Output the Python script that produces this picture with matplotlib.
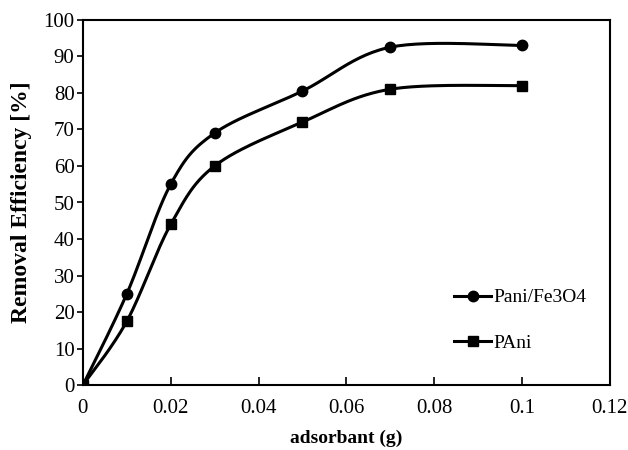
import matplotlib.pyplot as plt
import numpy as np
from matplotlib.ticker import FuncFormatter

# adsorbent mass (g) and removal efficiency (%)
dose = [0, 0.01, 0.02, 0.03, 0.05, 0.07, 0.1]
pani_fe3o4 = [0, 25, 55, 69, 80.5, 92.5, 93]
pani = [0, 17.5, 44, 60, 72, 81, 82]

xlim = (0, 0.12)
ylim = (0, 100)


def smooth(xs, ys, n=30):
    # Catmull-Rom type bezier through the points, done in axis-normalized units
    px = (np.asarray(xs) - xlim[0]) / (xlim[1] - xlim[0])
    py = (np.asarray(ys) - ylim[0]) / (ylim[1] - ylim[0]) * 0.7
    pts = np.column_stack([px, py])
    out = []
    for i in range(len(pts) - 1):
        p0 = pts[i - 1] if i > 0 else pts[i]
        p1 = pts[i]
        p2 = pts[i + 1]
        p3 = pts[i + 2] if i + 2 < len(pts) else pts[i + 1]
        c1 = p1 + (p2 - p0) / 6
        c2 = p2 - (p3 - p1) / 6
        t = np.linspace(0, 1, n)[:, None]
        seg = ((1 - t) ** 3) * p1 + 3 * ((1 - t) ** 2) * t * c1 + 3 * (1 - t) * t ** 2 * c2 + t ** 3 * p2
        out.append(seg)
    c = np.vstack(out)
    sx = c[:, 0] * (xlim[1] - xlim[0]) + xlim[0]
    sy = c[:, 1] / 0.7 * (ylim[1] - ylim[0]) + ylim[0]
    return sx, sy


plt.rcParams['font.family'] = 'Liberation Serif'

fig = plt.figure(figsize=(6.28, 4.5), dpi=100)
ax = fig.add_axes([0.132, 0.144, 0.839, 0.812])

for ys, mk, ms, lab in [(pani_fe3o4, 'o', 7.5, 'Pani/Fe3O4'), (pani, 's', 7.5, 'PAni')]:
    sx, sy = smooth(dose, ys)
    ax.plot(sx, sy, color='black', lw=2.2)
    ax.plot(dose, ys, linestyle='none', marker=mk, ms=ms, color='black')
    ax.plot([], [], color='black', lw=2.2, marker=mk, ms=ms, label=lab)

ax.set_xlim(*xlim)
ax.set_ylim(*ylim)
ax.set_xticks(np.arange(0, 0.121, 0.02))
ax.set_yticks(np.arange(0, 101, 10))
ax.xaxis.set_major_formatter(FuncFormatter(lambda v, p: '%g' % round(v, 2)))
ax.tick_params(axis='x', direction='in', length=6, width=1.2, labelsize=15, pad=10)
ax.tick_params(axis='y', direction='out', length=4, width=1.2, labelsize=15, pad=2)
for s in ax.spines.values():
    s.set_linewidth(1.5)

ax.set_xlabel('adsorbant (g)', fontsize=14, fontweight='bold', labelpad=8)
ax.set_ylabel('Removal Efficiency [%]', fontsize=17, fontweight='bold', labelpad=8)

ax.legend(loc='upper left', bbox_to_anchor=(0.69, 0.285), frameon=False,
          fontsize=14, handlelength=1.9, handletextpad=0.1, labelspacing=1.45,
          borderaxespad=0)

fig.savefig('out.png', dpi=100)
